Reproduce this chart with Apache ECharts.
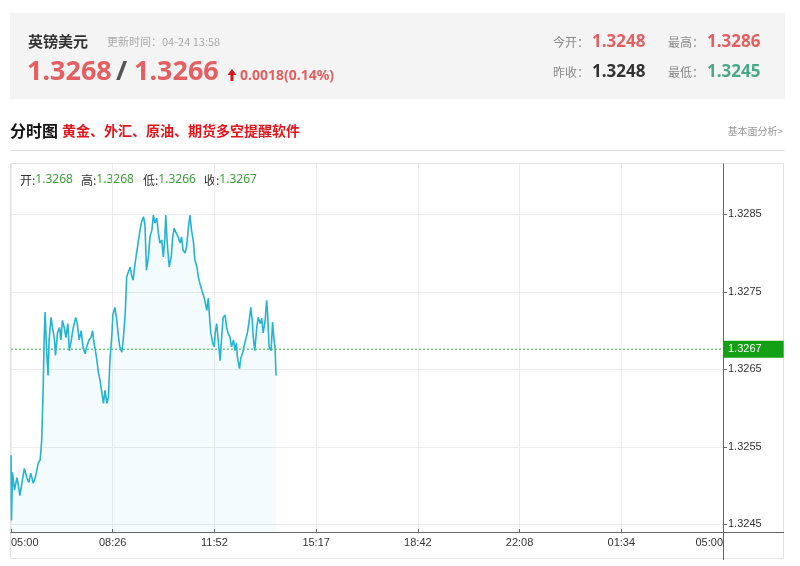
<!DOCTYPE html>
<html><head><meta charset="utf-8">
<script src="https://cdn.jsdelivr.net/npm/echarts@6/dist/echarts.min.js"></script>
<style>html,body{margin:0;padding:0;background:#fff;}#c{width:800px;height:566px;}</style>
</head><body><div id="c"></div>
<script>
// ---- data ----
const minutes = [0,1,3,7,12,15,18,23,27,32,36,40,45,49,52,55,59,62,65,67,69,72,75,77,81,84,88,90,94,98,101,104,108,111,115,118,121,126,131,134,138,142,146,150,153,158,162,165,168,173,177,180,183,187,190,194,197,200,204,206,210,214,217,220,224,227,231,234,237,241,244,247,251,254,257,261,264,268,271,274,278,281,285,288,291,295,298,301,305,308,311,313,316,320,324,327,330,334,338,342,345,348,352,355,359,362,365,369,372,376,379,382,386,389,392,396,399,401,404,408,411,413,416,419,423,426,429,433,436,439,443,446,450,453,456,458,462,465,468,471,475,478,481,485,488,490,493,497,500,504,507,510,514,517,519,522,526,529,532,534,536];
const prices = [1.32539,1.32455,1.32517,1.32494,1.32510,1.32500,1.32487,1.32507,1.32522,1.32510,1.32504,1.32516,1.32503,1.32510,1.32519,1.32529,1.32533,1.32558,1.32623,1.32688,1.32724,1.32674,1.32642,1.32688,1.32717,1.32704,1.32688,1.32668,1.32697,1.32704,1.32688,1.32713,1.32703,1.32691,1.32709,1.32674,1.32684,1.32704,1.32717,1.32709,1.32688,1.32700,1.32677,1.32670,1.32679,1.32688,1.32691,1.32700,1.32684,1.32665,1.32645,1.32636,1.32623,1.32606,1.32623,1.32606,1.32614,1.32661,1.32694,1.32720,1.32730,1.32713,1.32694,1.32679,1.32672,1.32688,1.32722,1.32769,1.32775,1.32782,1.32771,1.32765,1.32787,1.32800,1.32813,1.32830,1.32840,1.32847,1.32836,1.32778,1.32795,1.32821,1.32830,1.32849,1.32839,1.32845,1.32826,1.32813,1.32817,1.32795,1.32817,1.32849,1.32813,1.32782,1.32795,1.32821,1.32832,1.32826,1.32821,1.32813,1.32821,1.32804,1.32800,1.32808,1.32834,1.32849,1.32830,1.32814,1.32791,1.32782,1.32769,1.32761,1.32752,1.32746,1.32739,1.32726,1.32742,1.32722,1.32697,1.32684,1.32679,1.32697,1.32709,1.32711,1.32661,1.32691,1.32717,1.32720,1.32704,1.32697,1.32691,1.32679,1.32688,1.32674,1.32684,1.32665,1.32651,1.32665,1.32670,1.32679,1.32677,1.32697,1.32709,1.32730,1.32713,1.32691,1.32674,1.32704,1.32717,1.32709,1.32716,1.32697,1.32713,1.32739,1.32722,1.32679,1.32674,1.32711,1.32688,1.32679,1.32642];
const xTickLabels = ['05:00','08:26','11:52','15:17','18:42','22:08','01:34','05:00'];
const sessionMinutes = 1440;
const yTickValues = [1.3245,1.3255,1.3265,1.3275,1.3285];
const yMin = 1.32440, yMax = 1.32915;
const lastPrice = 1.32676;
const lastPriceLabel = '1.3267';
const ohlcNames = ['开:','高:','低:','收:'];
const ohlcValues = ['1.3268','1.3268','1.3266','1.3267'];
const quoteName = '英镑美元';
const updateTime = '更新时间：04-24 13:58';
const bidPrice = '1.3268', askPrice = '1.3266', changeText = '0.0018(0.14%)';
const statNames = ['今开：','最高：','昨收：','最低：'];
const statValues = ['1.3248','1.3286','1.3248','1.3245'];
const titleMain = '分时图';
const titleAd = '黄金、外汇、原油、期货多空提醒软件';
const titleLink = '基本面分析>';

// ---- chart ----
const CJK = '"Noto Sans CJK SC", sans-serif';
const NUM = '"Noto Sans", "Noto Sans CJK SC", sans-serif';
const AX = '"Liberation Sans", Arial, sans-serif';
const RED = '#e45f61';
const chart = echarts.init(document.getElementById('c'), null, {renderer:'canvas'});
const xTicks = xTickLabels.map((_, i) => i * sessionMinutes / (xTickLabels.length - 1));

function txt(x, y, text, font, fill, align) {
  return {type:'text', x:x, y:y, silent:true, style:{text:text, font:font, fill:fill, align:align||'left', verticalAlign:'middle'}};
}
const statPos = [[553,42],[668,42],[553,72],[668,72]];
const statValPos = [[592,42],[707,42],[592,72],[707,72]];
const statColors = [RED, RED, '#333', '#4aa88a'];
const ohlcX = [20, 81, 143, 204];

const graphics = [
  {type:'rect', silent:true, z:-10, shape:{x:10,y:13,width:775,height:86}, style:{fill:'#f4f4f4'}},
  txt(28, 41, quoteName, 'bold 15px ' + CJK, '#333'),
  txt(107, 42, updateTime, '11px ' + CJK, '#aaa'),
  txt(27, 72, bidPrice, 'bold 27px ' + NUM, RED),
  txt(116, 72, '/', 'bold 27px ' + NUM, '#555'),
  txt(134, 72, askPrice, 'bold 27px ' + NUM, RED),
  {type:'polygon', silent:true, shape:{points:[[232,69],[236.5,75],[233.5,75],[233.5,81],[230.5,81],[230.5,75],[227.5,75]]}, style:{fill:'#d0161b'}},
  txt(240, 76, changeText, 'bold 14px ' + NUM, RED),
  {type:'line', silent:true, shape:{x1:10,y1:150.5,x2:785,y2:150.5}, style:{stroke:'#dcdcdc', lineWidth:1}},
  txt(10, 131, titleMain, 'bold 16px ' + CJK, '#111'),
  txt(62, 131, titleAd, 'bold 14px ' + CJK, '#e4141b'),
  txt(783, 131, titleLink, '10px ' + CJK, '#999', 'right'),
  {type:'rect', silent:true, z:-10, shape:{x:10.5,y:163.5,width:773,height:395}, style:{fill:'none', stroke:'#e3e3e3', lineWidth:1}},
  {type:'line', silent:true, shape:{x1:723,y1:532.5,x2:784,y2:532.5}, style:{stroke:'#666', lineWidth:1}},
  {type:'line', silent:true, shape:{x1:723.5,y1:532,x2:723.5,y2:560}, style:{stroke:'#666', lineWidth:1}}
];
statNames.forEach((n, i) => {
  graphics.push(txt(statPos[i][0], statPos[i][1], n, '12px ' + CJK, '#888'));
  graphics.push(txt(statValPos[i][0], statValPos[i][1], statValues[i], 'bold 17px ' + NUM, statColors[i]));
});
ohlcNames.forEach((n, i) => {
  graphics.push({type:'text', x:ohlcX[i], y:180, silent:true, style:{
    text:'{n|' + n + '}{v|' + ohlcValues[i] + '}', verticalAlign:'middle',
    rich:{n:{font:'12px ' + CJK, fill:'#333'}, v:{font:'12px ' + NUM, fill:'#3c9f3c'}}}});
});

chart.setOption({
  animation:false,
  grid:{left:11, right:77, top:164, bottom:34, containLabel:false},
  xAxis:{type:'value', min:0, max:sessionMinutes,
    axisLine:{show:true, onZero:false, lineStyle:{color:'#666'}},
    axisTick:{show:true, inside:true, length:3, customValues:xTicks, lineStyle:{color:'#666'}},
    axisLabel:{customValues:xTicks, color:'#333', fontSize:11, fontFamily:AX, margin:5,
      formatter:(v) => xTickLabels[Math.round(v * (xTickLabels.length - 1) / sessionMinutes)],
      alignMinLabel:'left', alignMaxLabel:'right', showMinLabel:true, showMaxLabel:true},
    splitLine:{show:true, lineStyle:{color:'#ececec', width:1}}},
  yAxis:{type:'value', position:'right', min:yMin, max:yMax,
    axisLine:{show:true, onZero:false, lineStyle:{color:'#666'}},
    axisTick:{show:true, length:4, customValues:yTickValues, lineStyle:{color:'#666'}},
    axisLabel:{customValues:yTickValues, formatter:(v) => v.toFixed(4), margin:5, color:'#333', fontSize:11, fontFamily:AX},
    splitLine:{show:true, lineStyle:{color:'#ececec', width:1}}},
  series:[{
    type:'line', data:minutes.map((m, i) => [m, prices[i]]), showSymbol:false, symbol:'none',
    lineStyle:{color:'#25b3d1', width:1.6}, areaStyle:{color:'rgba(37,179,209,0.08)', origin:'start'}
  }, {
    type:'line', data:[[0, lastPrice], [sessionMinutes, lastPrice]], showSymbol:false, symbol:'none', silent:true, z:1,
    lineStyle:{type:[2,2], color:'#2fb52f', width:1},
    endLabel:{show:true, formatter:lastPriceLabel, distance:1, color:'#fff', backgroundColor:'#14a014',
      padding:[3,22,3,4], fontSize:11, fontFamily:AX}
  }],
  graphic:graphics
});
</script>
</body></html>
